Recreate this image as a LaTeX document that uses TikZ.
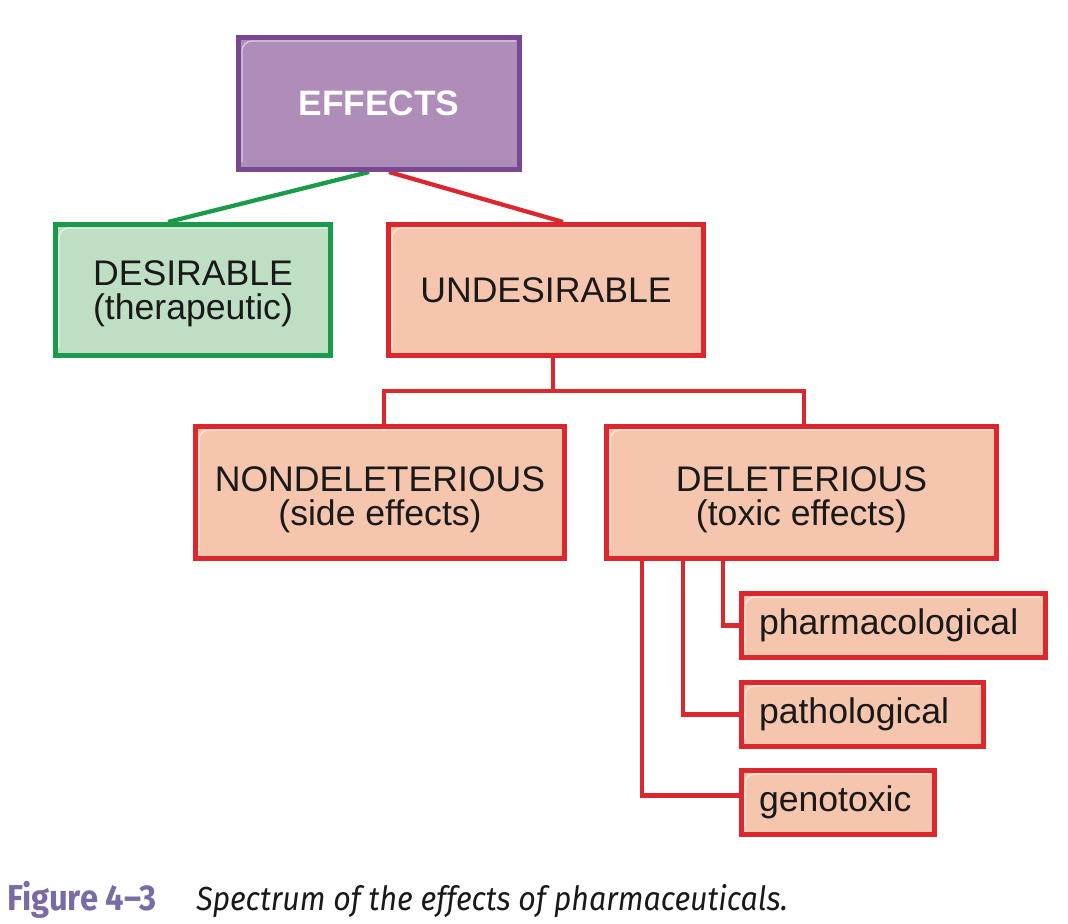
\documentclass[tikz,border=0pt]{standalone}
\usepackage{fontspec}
\setmainfont{Liberation Sans}
\newfontfamily\capfont[FakeStretch=0.91]{Fira Sans}
\usetikzlibrary{calc}
\definecolor{purpB}{RGB}{122,72,144}
\definecolor{purpF}{RGB}{174,141,185}
\definecolor{grnB}{RGB}{26,154,74}
\definecolor{grnF}{RGB}{191,223,196}
\definecolor{redB}{RGB}{218,40,46}
\definecolor{redF}{RGB}{245,197,173}
\definecolor{capP}{RGB}{122,106,166}
\definecolor{txt}{RGB}{25,25,25}
\pgfdeclarelayer{bg}
\pgfsetlayers{bg,main}
\newcommand\glossbox[1]{\draw[gloss] ($(#1.south west)+(6,-10)$) |- ($(#1.north east)+(-6,6)$);}
\begin{document}
\begin{tikzpicture}[x=0.75pt,y=-0.75pt,
  bfont/.style={font=\fontsize{26.7}{25.5}\selectfont},
  box/.style={draw, line width=3.75pt, inner sep=0pt, bfont, text=txt, align=center},
  effbox/.style={box, draw=purpB, fill=purpF, text=white, font=\fontsize{26.5}{25.5}\selectfont\bfseries},
  grnbox/.style={box, draw=grnB, fill=grnF},
  redbox/.style={box, draw=redB, fill=redF},
  smallbox/.style={redbox, align=left, inner xsep=13.125pt, minimum height=48pt},
  lbl/.style={bfont, text=txt, align=center, inner sep=0pt},
  redline/.style={draw=redB, line width=3.2pt},
  grnline/.style={draw=grnB, line width=3.2pt},
  gloss/.style={draw=white, opacity=0.55, line width=1pt, rounded corners=7.5pt}]
\begin{pgfonlayer}{bg}
\fill[white] (0,0) rectangle (1068,924);
\end{pgfonlayer}
\useasboundingbox (0,0) rectangle (1068,924);

\node[effbox, minimum width=281*0.75pt, minimum height=132*0.75pt] (eff) at (379,103.5) {EFFECTS};
\node[grnbox, minimum width=275*0.75pt, minimum height=131*0.75pt] (des) at (193,290) {};
\node[lbl, yshift=-2.5pt] (destext) at (des.center) {DESIRABLE\\(therapeutic)};
\node[redbox, minimum width=315*0.75pt, minimum height=131*0.75pt] (und) at (546,290) {UNDESIRABLE};
\node[redbox, minimum width=369*0.75pt, minimum height=132*0.75pt] (nondel) at (380,492.5) {};
\node[redbox, minimum width=390*0.75pt, minimum height=132*0.75pt] (del) at (801.5,492.5) {};
\node[lbl, yshift=-5.25pt] (nondeltext) at (nondel.center) {NONDELETERIOUS\\(side effects)};
\node[lbl, yshift=-5.25pt] (deltext) at (del.center) {DELETERIOUS\\(toxic effects)};
\node[smallbox, text width=269*0.75pt] (pharm) at (893.5,625.5) {pharmacological};
\node[smallbox, text width=207*0.75pt] (patho) at (862.5,714.5) {pathological};
\node[smallbox, text width=158*0.75pt] (geno) at (838,802.5) {genotoxic};

\foreach \n in {eff,des,und,nondel,del,pharm,patho,geno} {\glossbox{\n}}

\begin{pgfonlayer}{bg}
\draw[grnline] ($(eff.south)+(-10,0)$) -- ($(des.north)+(-25,0)$);
\draw[redline] ($(eff.south)+(10,0)$) -- ($(und.north)+(17,0)$);
\coordinate (ju) at ($(und.south)+(7,33)$);
\draw[redline] ($(und.south)+(7,0)$) -- (ju);
\draw[redline] ($(nondel.north)+(4,0)$) |- (ju) -| ($(del.north)+(2.5,0)$);
\draw[redline] ($(del.south)+(-78.5,0)$) |- (pharm.west);
\draw[redline] ($(del.south)+(-118.5,0)$) |- (patho.west);
\draw[redline] ($(del.south)+(-159.5,0)$) |- ($(geno.west)+(0,-7)$);
\end{pgfonlayer}

\node[anchor=base west, inner sep=0pt, text=capP, font=\capfont\bfseries\fontsize{27}{30}\selectfont] (fig) at (7,910) {Figure 4–3};
\node[anchor=base west, inner sep=0pt, text=txt, font=\capfont\itshape\fontsize{25}{30}\selectfont] (cap) at (196,910) {Spectrum of the effects of pharmaceuticals.};
\end{tikzpicture}
\end{document}
